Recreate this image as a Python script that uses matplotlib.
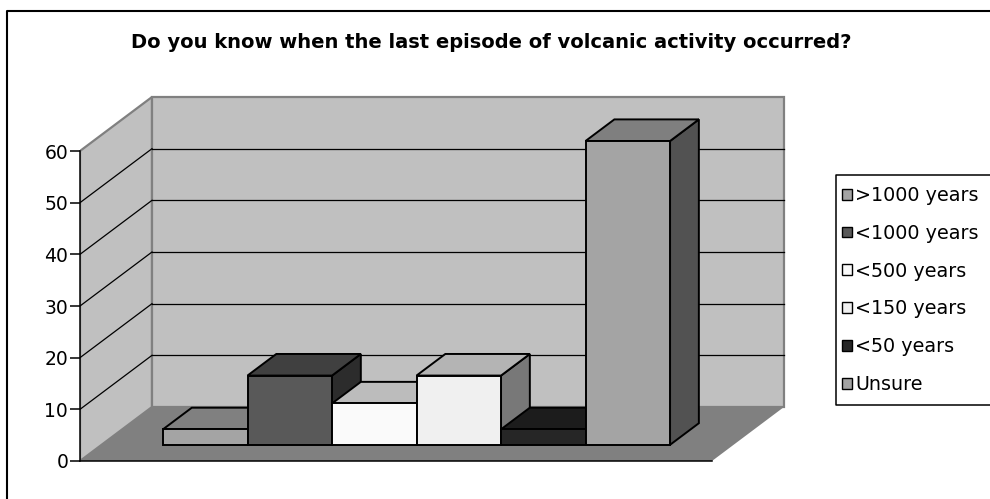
import matplotlib
matplotlib.use("Agg")
import matplotlib.pyplot as plt
from matplotlib.patches import Polygon, Rectangle, Patch
from matplotlib.lines import Line2D

plt.rcParams['font.family'] = ['DejaVu Sans']

# data (percent of answers)
labels = ['>1000 years', '<1000 years', '<500 years', '<150 years', '<50 years', 'Unsure']
values = [3.0, 13.4, 8.0, 13.4, 3.0, 58.8]
yticks = [0, 10, 20, 30, 40, 50, 60]
title = 'Do you know when the last episode of volcanic activity occurred?'

# face colours: front, top, side
front_cols = ['#a4a4a4', '#595959', '#fafafa', '#f0f0f0', '#262626', '#a4a4a4']
top_cols = ['#808080', '#404040', '#bcbcbc', '#b4b4b4', '#1c1c1c', '#7f7f7f']
side_cols = ['#525252', '#2c2c2c', '#7d7d7d', '#787878', '#131313', '#525252']

W, H = 990, 499
fig = plt.figure(figsize=(W / 100, H / 100), dpi=100)

# pixel layout of the 3d box
x0, y0 = 80, 461          # front-left floor corner
px_cat = 632 / 6          # px per category unit along floor
px_val = 310 / 60         # px per value unit
dep_px = (72, 54)         # full depth offset in px
ax_right, ax_top = 800, 90

ax = fig.add_axes([x0 / W, (H - y0) / H, (ax_right - x0) / W, (y0 - ax_top) / H])
ax.set_xlim(0, (ax_right - x0) / px_cat)
ax.set_ylim(0, (y0 - ax_top) / px_val)
ax.patch.set_visible(False)
for s in ['top', 'right', 'bottom']:
    ax.spines[s].set_visible(False)
ax.spines['left'].set_bounds(0, 60)
ax.spines['left'].set_linewidth(1.1)
ax.spines['left'].set_zorder(5)
ax.set_xticks([])
ax.set_yticks(yticks)
ax.tick_params(axis='y', length=7, width=1.1, pad=1.5, labelsize=13.5)

ddx = dep_px[0] / px_cat
ddy = dep_px[1] / px_val
ncat = 6
vmax = 60

# walls and floor
side = Polygon([(0, 0), (0, vmax), (ddx, vmax + ddy), (ddx, ddy)],
               facecolor='#c0c0c0', edgecolor='#808080', lw=1.6, zorder=1)
back = Polygon([(ddx, ddy), (ddx, vmax + ddy), (ncat + ddx, vmax + ddy), (ncat + ddx, ddy)],
               facecolor='#c0c0c0', edgecolor='#808080', lw=1.6, zorder=1)
floor = Polygon([(0, 0), (ncat, 0), (ncat + ddx, ddy), (ddx, ddy)],
                facecolor='#808080', edgecolor='none', zorder=1.5)
for p in (side, back, floor):
    ax.add_patch(p)

for v in yticks[1:-1]:
    ax.plot([0, ddx], [v, v + ddy], color='black', lw=0.9, zorder=2)
    ax.plot([ddx, ncat + ddx], [v + ddy, v + ddy], color='black', lw=0.9, zorder=2)
ax.plot([0, ncat], [0, 0], color='black', lw=1.1, zorder=5, clip_on=False)

# 3d bars
f0, f1 = 0.3, 0.7
bw = 0.8023
left0 = 0.583
bx, by = (f1 - f0) * ddx, (f1 - f0) * ddy
for i, v in enumerate(values):
    xl = left0 + i * bw + f0 * ddx
    xr = xl + bw
    yb = f0 * ddy
    yt = yb + v
    z = 3 + i * 0.1
    kw = dict(edgecolor='black', lw=1.4, joinstyle='miter', zorder=z)
    ax.add_patch(Polygon([(xr, yb), (xr + bx, yb + by), (xr + bx, yt + by), (xr, yt)],
                         facecolor=side_cols[i], **kw))
    ax.add_patch(Polygon([(xl, yt), (xr, yt), (xr + bx, yt + by), (xl + bx, yt + by)],
                         facecolor=top_cols[i], **kw))
    ax.add_patch(Rectangle((xl, yb), bw, v, facecolor=front_cols[i], **kw))

fig.text(491 / W, 1 - 42 / H, title, ha='center', va='center',
         fontsize=14, fontweight='bold')

# legend
handles = [Patch(facecolor=c, edgecolor='black', lw=1) for c in front_cols]
fig.legend(handles, labels, loc='upper left', bbox_to_anchor=(842 / W, 1 - 186 / H),
           frameon=False, fontsize=13.8, handlelength=0.5, handleheight=0.5,
           handletextpad=0.2, labelspacing=0.98, borderaxespad=0, borderpad=0)

# legend box (right side runs off the picture)
lx, ltop, lbot = 836 / W, 1 - 175 / H, 1 - 405 / H
fig.add_artist(Line2D([1.01, lx, lx, 1.01], [ltop, ltop, lbot, lbot],
                      transform=fig.transFigure, color='black', lw=1.1))

# outer chart frame (only top and left are inside the picture)
fx, fy = 7 / W, 1 - 11 / H
fig.add_artist(Line2D([fx, fx, 1.01], [-0.01, fy, fy],
                      transform=fig.transFigure, color='black', lw=1.5))

fig.savefig('out.png', dpi=100)
